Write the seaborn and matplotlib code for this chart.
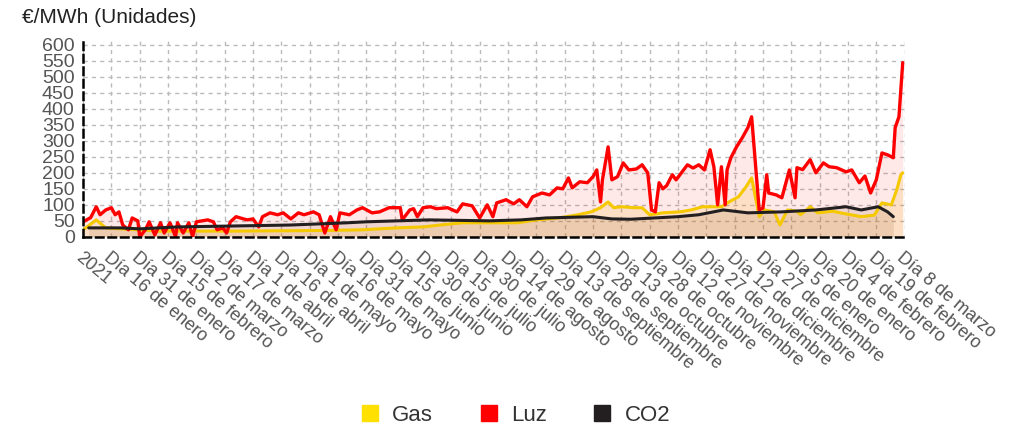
import seaborn as sns
import matplotlib.pyplot as plt
from matplotlib.lines import Line2D

sns.set_style("white")
plt.rcParams['font.family'] = ['Liberation Sans', 'DejaVu Sans']

# posiciones en la serie (un punto por dato), 0 = 1 de enero de 2021
luz_dia = [0, 4, 7, 9, 12, 15, 17, 19, 21, 24, 26, 29, 30, 33, 35, 38, 41, 43, 46, 49,
           50, 53, 56, 58, 60, 66, 69, 71, 74, 76, 78, 81, 85, 87, 90, 93, 95, 99, 103, 106,
           110, 114, 117, 122, 125, 128, 131, 134, 136, 141, 145, 148, 153, 157, 162, 168, 169, 173, 175, 177,
           180, 184, 187, 193, 198, 201, 206, 210, 214, 217, 219, 224, 228, 231, 235, 238, 243, 247, 251, 254,
           257, 259, 263, 267, 270, 272, 274, 275, 278, 280, 283, 286, 289, 293, 296, 299, 301, 303, 305, 307,
           309, 312, 314, 320, 323, 326, 329, 332, 334, 336, 338, 340, 341, 343, 346, 349, 352, 354, 358, 360,
           362, 363, 367, 370, 374, 377, 378, 381, 385, 388, 392, 395, 399, 404, 407, 411, 414, 417, 420, 423,
           426, 429, 430, 432, 434]
luz = [47, 60, 94, 69, 84, 91, 69, 78, 37, 22, 59, 50, 0, 22, 47, 6, 44, 12, 44, 0,
       44, 12, 44, 0, 47, 53, 47, 22, 28, 12, 47, 63, 56, 53, 56, 31, 63, 75, 69, 75,
       56, 75, 69, 78, 69, 12, 63, 22, 75, 69, 84, 91, 75, 78, 91, 91, 53, 84, 88, 63,
       91, 94, 88, 91, 78, 103, 97, 59, 100, 63, 106, 116, 103, 116, 94, 125, 137, 131, 153, 150,
       184, 153, 172, 169, 188, 209, 109, 178, 281, 178, 188, 231, 209, 212, 225, 200, 84, 78, 169, 150,
       160, 194, 178, 225, 215, 225, 209, 272, 219, 100, 219, 100, 209, 247, 281, 309, 341, 375, 84, 90,
       194, 137, 131, 122, 209, 122, 216, 210, 241, 200, 231, 219, 216, 203, 209, 169, 190, 137, 178, 262,
       256, 247, 341, 375, 544]

gas_dia = [0, 7, 12, 20, 40, 80, 130, 148, 166, 180, 189, 201, 219, 230, 240, 251, 256, 262, 269, 274,
           278, 281, 285, 292, 296, 300, 304, 307, 316, 322, 328, 338, 342, 347, 351, 354, 356, 358, 361, 366,
           369, 373, 378, 380, 385, 389, 397, 401, 412, 419, 423, 428, 431, 433, 434]
gas = [22, 53, 28, 25, 18, 18, 20, 22, 28, 31, 37, 44, 44, 44, 53, 59, 63, 69, 78, 91,
       109, 91, 94, 91, 91, 69, 72, 75, 78, 84, 94, 94, 109, 125, 156, 184, 125, 63, 84, 78,
       37, 84, 80, 69, 94, 75, 80, 75, 63, 68, 106, 100, 150, 194, 200]

co2_dia = [3, 20, 30, 50, 80, 110, 140, 150, 183, 215, 232, 245, 270, 280, 290, 315, 326, 339, 352, 370,
           388, 404, 412, 421, 426, 429]
co2 = [28, 28, 25, 31, 34, 37, 44, 47, 53, 50, 53, 59, 63, 56, 55, 63, 69, 84, 75, 78,
       84, 94, 84, 94, 78, 63]

etiquetas = ["2021", "Día 16 de enero", "Día 31 de enero", "Día 15 de febrero", "Día 2 de marzo",
             "Día 17 de marzo", "Día 1 de abril", "Día 16 de abril", "Día 1 de mayo", "Día 16 de mayo",
             "Día 31 de mayo", "Día 15 de junio", "Día 30 de junio", "Día 15 de julio", "Día 30 de julio",
             "Día 14 de agosto", "Día 29 de agosto", "Día 13 de septiembre", "Día 28 de septiembre",
             "Día 13 de octubre", "Día 28 de octubre", "Día 12 de noviembre", "Día 27 de noviembre",
             "Día 12 de diciembre", "Día 27 de diciembre", "Día 5 de enero", "Día 20 de enero",
             "Día 4 de febrero", "Día 19 de febrero", "Día 8 de marzo"]

c_gas, c_luz, c_co2 = "#f5c800", "#ff0000", "#231f20"

fig = plt.figure(figsize=(10.13, 4.33), dpi=100)
ax = fig.add_axes([0.082, 0.453, 0.811, 0.46])

ax.fill_between(luz_dia, luz, color=c_luz, alpha=0.09, lw=0)
ax.fill_between(gas_dia, gas, color="#f0b000", alpha=0.15, lw=0)
ax.fill_between(co2_dia, co2, color="#8a4a20", alpha=0.13, lw=0)

sns.lineplot(x=gas_dia, y=gas, color=c_gas, lw=2.2, ax=ax)
sns.lineplot(x=luz_dia, y=luz, color=c_luz, lw=2.4, ax=ax)
sns.lineplot(x=co2_dia, y=co2, color=c_co2, lw=2.2, ax=ax)

ax.set_xlim(0, 435)
ax.set_ylim(0, 622)
ax.set_yticks(range(0, 601, 50))
ax.set_xticks(range(0, 436, 15))
ax.set_xticklabels(etiquetas, rotation=-40, ha="left", va="top", rotation_mode="anchor")
ax.tick_params(axis="y", labelsize=14, labelcolor="#555555", length=4, width=1.5, color="black", pad=2)
ax.tick_params(axis="x", labelsize=13, labelcolor="#555555", length=3, width=1.5, color="black", pad=6)
ax.grid(True, color="#bbbbbb", linestyle=(0, (3, 3)), lw=1)
ax.set_axisbelow(True)
for s in ["top", "right"]:
    ax.spines[s].set_visible(False)
for s in ["left", "bottom"]:
    ax.spines[s].set_color("black")
    ax.spines[s].set_linewidth(1.8)
    ax.spines[s].set_linestyle((0, (3, 2)))
ax.set_xlabel("")
ax.set_ylabel("")

fig.text(0.022, 0.96, "€/MWh (Unidades)", fontsize=15, color="#222222", va="center", ha="left")

handles = [Line2D([], [], marker="s", ls="none", ms=12, color=c) for c in ["#ffe000", c_luz, c_co2]]
fig.legend(handles, ["Gas", "Luz", "CO2"], loc="center", bbox_to_anchor=(0.508, 0.04), ncol=3,
           frameon=False, fontsize=16, columnspacing=2.0, handlelength=1.0, handletextpad=0.5,
           labelcolor="#333333")

plt.savefig("out.png", dpi=100)
